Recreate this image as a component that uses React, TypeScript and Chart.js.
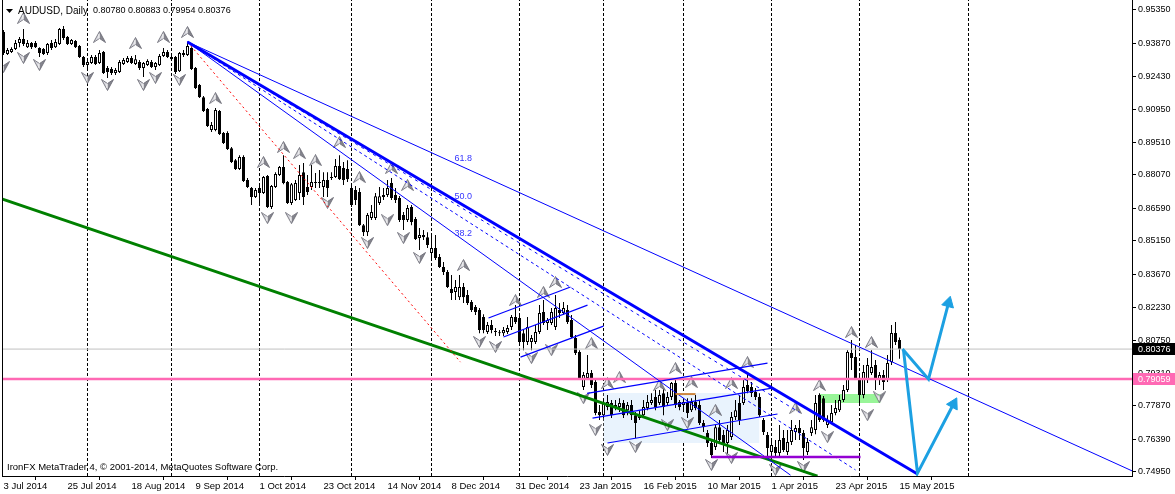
import React, { useEffect, useRef } from 'react';
import { Chart, registerables } from 'chart.js';

Chart.register(...registerables);

const FONT_FAMILY = '"Liberation Sans", Arial, sans-serif';

// ---------- axis data ----------
const dateTickBars = [0, 16, 32, 48, 64, 80, 96, 112, 128, 144, 160, 176, 192, 208, 224];
const dateTickLabels = ['3 Jul 2014', '25 Jul 2014', '18 Aug 2014', '9 Sep 2014', '1 Oct 2014', '23 Oct 2014', '14 Nov 2014', '8 Dec 2014', '31 Dec 2014', '23 Jan 2015', '16 Feb 2015', '10 Mar 2015', '1 Apr 2015', '23 Apr 2015', '15 May 2015'];
const monthStartBars = [21, 42, 64, 87, 107, 129, 150, 170, 192, 214, 241.25];
const priceTicks = [0.9535, 0.9387, 0.9243, 0.9095, 0.8951, 0.8807, 0.8659, 0.8515, 0.8367, 0.8223, 0.8075, 0.7931, 0.7787, 0.7639, 0.7495];

// ---------- candles (AUDUSD daily) ----------
const opens = [
  0.9438, 0.9341, 0.9349, 0.9363, 0.9389, 0.9407, 0.9371, 0.9389, 0.9389, 0.9367,
  0.9363, 0.9345, 0.9389, 0.9371, 0.9385, 0.9451, 0.9416, 0.9385, 0.9398, 0.9376,
  0.9327, 0.9292, 0.9301, 0.9327, 0.9301, 0.9349, 0.9279, 0.9274, 0.9257, 0.9261,
  0.9296, 0.9305, 0.9323, 0.9296, 0.9305, 0.9279, 0.9292, 0.9305, 0.9283, 0.9292,
  0.9332, 0.9349, 0.9327, 0.9327, 0.9265, 0.9336, 0.9336, 0.9367, 0.9279, 0.9204,
  0.9150, 0.9098, 0.9005, 0.9005, 0.9089, 0.8992, 0.8992, 0.8925, 0.8872, 0.8833,
  0.8886, 0.8784, 0.8749, 0.8709, 0.8749, 0.8727, 0.8802, 0.8665, 0.8753, 0.8806,
  0.8842, 0.8775, 0.8683, 0.8696, 0.8727, 0.8819, 0.8753, 0.8753, 0.8775, 0.8771,
  0.8753, 0.8784, 0.8793, 0.8797, 0.8846, 0.8837, 0.8833, 0.8749, 0.8740, 0.8731,
  0.8585, 0.8554, 0.8616, 0.8616, 0.8683, 0.8718, 0.8718, 0.8771, 0.8718, 0.8705,
  0.8630, 0.8608, 0.8665, 0.8612, 0.8528, 0.8541, 0.8532, 0.8462, 0.8484, 0.8444,
  0.8400, 0.8378, 0.8303, 0.8290, 0.8267, 0.8312, 0.8276, 0.8245, 0.8223, 0.8210,
  0.8179, 0.8113, 0.8144, 0.8117, 0.8108, 0.8108, 0.8113, 0.8135, 0.8179, 0.8175,
  0.8108, 0.8069, 0.8069, 0.8069, 0.8113, 0.8201, 0.8153, 0.8153, 0.8135, 0.8210,
  0.8197, 0.8210, 0.8166, 0.8087, 0.8025, 0.7870, 0.7910, 0.7932, 0.7892, 0.7760,
  0.7746, 0.7782, 0.7799, 0.7791, 0.7782, 0.7799, 0.7768, 0.7791, 0.7746, 0.7733,
  0.7746, 0.7777, 0.7799, 0.7826, 0.7799, 0.7843, 0.7799, 0.7826, 0.7888, 0.7804,
  0.7791, 0.7804, 0.7768, 0.7804, 0.7791, 0.7711, 0.7667, 0.7623, 0.7605, 0.7693,
  0.7658, 0.7623, 0.7649, 0.7738, 0.7800, 0.7799, 0.7879, 0.7870, 0.7848, 0.7826,
  0.7724, 0.7658, 0.7583, 0.7605, 0.7579, 0.7645, 0.7583, 0.7627, 0.7671, 0.7689,
  0.7667, 0.7583, 0.7667, 0.7680, 0.7835, 0.7821, 0.7702, 0.7715, 0.7755, 0.7768,
  0.7813, 0.7857, 0.8020, 0.8003, 0.7901, 0.7835, 0.7901, 0.7932, 0.7967, 0.7901,
  0.7923, 0.7901, 0.7980, 0.8109, 0.80780,
];
const highs = [
  0.9447, 0.9367, 0.9371, 0.9402, 0.9416, 0.9451, 0.9402, 0.9394, 0.9398, 0.9371,
  0.9367, 0.9389, 0.9402, 0.9407, 0.9455, 0.9464, 0.9420, 0.9407, 0.9402, 0.9380,
  0.9332, 0.9314, 0.9336, 0.9336, 0.9358, 0.9354, 0.9288, 0.9283, 0.9279, 0.9314,
  0.9323, 0.9332, 0.9332, 0.9336, 0.9314, 0.9305, 0.9318, 0.9314, 0.9305, 0.9341,
  0.9367, 0.9358, 0.9336, 0.9332, 0.9349, 0.9358, 0.9394, 0.9371, 0.9283, 0.9208,
  0.9155, 0.9102, 0.9040, 0.9102, 0.9093, 0.8996, 0.9000, 0.8930, 0.8877, 0.8894,
  0.8894, 0.8793, 0.8753, 0.8749, 0.8758, 0.8802, 0.8806, 0.8762, 0.8819, 0.8846,
  0.8894, 0.8780, 0.8771, 0.8784, 0.8850, 0.8859, 0.8806, 0.8850, 0.8815, 0.8828,
  0.8819, 0.8819, 0.8819, 0.8877, 0.8894, 0.8864, 0.8872, 0.8762, 0.8758, 0.8749,
  0.8590, 0.8638, 0.8674, 0.8727, 0.8753, 0.8749, 0.8784, 0.8793, 0.8749, 0.8714,
  0.8643, 0.8674, 0.8674, 0.8621, 0.8572, 0.8563, 0.8554, 0.8537, 0.8541, 0.8457,
  0.8422, 0.8387, 0.8365, 0.8343, 0.8365, 0.8329, 0.8298, 0.8254, 0.8232, 0.8219,
  0.8192, 0.8157, 0.8166, 0.8131, 0.8122, 0.8135, 0.8144, 0.8188, 0.8232, 0.8188,
  0.8122, 0.8179, 0.8100, 0.8144, 0.8232, 0.8254, 0.8175, 0.8219, 0.8276, 0.8241,
  0.8245, 0.8232, 0.8188, 0.8100, 0.8033, 0.7936, 0.8011, 0.7945, 0.7901, 0.7791,
  0.7821, 0.7835, 0.7813, 0.7813, 0.7821, 0.7813, 0.7804, 0.7813, 0.7760, 0.7768,
  0.7813, 0.7835, 0.7843, 0.7857, 0.7857, 0.7866, 0.7848, 0.7892, 0.7901, 0.7813,
  0.7821, 0.7821, 0.7821, 0.7835, 0.7813, 0.7724, 0.7680, 0.7636, 0.7702, 0.7724,
  0.7680, 0.7702, 0.7760, 0.7813, 0.7835, 0.7901, 0.7936, 0.7892, 0.7866, 0.7843,
  0.7733, 0.7671, 0.7636, 0.7636, 0.7702, 0.7680, 0.7680, 0.7724, 0.7702, 0.7724,
  0.7680, 0.7645, 0.7724, 0.7835, 0.7843, 0.7830, 0.7746, 0.7791, 0.7813, 0.7835,
  0.7879, 0.8033, 0.8078, 0.8056, 0.7923, 0.7967, 0.7998, 0.8033, 0.7989, 0.7936,
  0.7945, 0.8011, 0.8144, 0.8157, 0.80883,
];
const lows = [
  0.9336, 0.9336, 0.9345, 0.9358, 0.9371, 0.9376, 0.9367, 0.9363, 0.9367, 0.9327,
  0.9336, 0.9336, 0.9358, 0.9367, 0.9380, 0.9402, 0.9380, 0.9380, 0.9367, 0.9323,
  0.9283, 0.9270, 0.9296, 0.9292, 0.9296, 0.9252, 0.9235, 0.9248, 0.9248, 0.9257,
  0.9292, 0.9301, 0.9296, 0.9292, 0.9270, 0.9239, 0.9288, 0.9279, 0.9270, 0.9288,
  0.9327, 0.9323, 0.9314, 0.9252, 0.9261, 0.9327, 0.9332, 0.9270, 0.9186, 0.9146,
  0.9084, 0.9018, 0.8996, 0.9000, 0.8983, 0.8943, 0.8917, 0.8859, 0.8828, 0.8828,
  0.8775, 0.8749, 0.8674, 0.8705, 0.8674, 0.8722, 0.8661, 0.8656, 0.8749, 0.8802,
  0.8766, 0.8678, 0.8674, 0.8691, 0.8696, 0.8674, 0.8718, 0.8740, 0.8749, 0.8749,
  0.8709, 0.8709, 0.8784, 0.8793, 0.8784, 0.8762, 0.8775, 0.8665, 0.8674, 0.8581,
  0.8537, 0.8537, 0.8608, 0.8608, 0.8674, 0.8696, 0.8709, 0.8696, 0.8683, 0.8599,
  0.8563, 0.8599, 0.8585, 0.8519, 0.8475, 0.8519, 0.8484, 0.8431, 0.8431, 0.8396,
  0.8365, 0.8307, 0.8254, 0.8254, 0.8254, 0.8241, 0.8232, 0.8201, 0.8188, 0.8108,
  0.8108, 0.8104, 0.8108, 0.8095, 0.8095, 0.8095, 0.8104, 0.8122, 0.8148, 0.8065,
  0.8033, 0.8056, 0.8033, 0.8060, 0.8104, 0.8144, 0.8122, 0.8144, 0.8122, 0.8175,
  0.8188, 0.8148, 0.8087, 0.8011, 0.7901, 0.7857, 0.7901, 0.7866, 0.7746, 0.7724,
  0.7733, 0.7768, 0.7733, 0.7768, 0.7760, 0.7733, 0.7746, 0.7724, 0.7645, 0.7724,
  0.7733, 0.7768, 0.7791, 0.7768, 0.7791, 0.7746, 0.7791, 0.7813, 0.7777, 0.7768,
  0.7760, 0.7733, 0.7760, 0.7768, 0.7702, 0.7671, 0.7605, 0.7557, 0.7592, 0.7627,
  0.7583, 0.7570, 0.7636, 0.7724, 0.7702, 0.7791, 0.7843, 0.7826, 0.7813, 0.7738,
  0.7658, 0.7557, 0.7557, 0.7566, 0.7566, 0.7583, 0.7570, 0.7614, 0.7636, 0.7636,
  0.7548, 0.7570, 0.7654, 0.7662, 0.7716, 0.7716, 0.7689, 0.7707, 0.7746, 0.7760,
  0.7804, 0.7848, 0.7945, 0.7901, 0.7791, 0.7821, 0.7888, 0.7923, 0.7857, 0.7879,
  0.7857, 0.7892, 0.7967, 0.8056, 0.79954,
];
const closes = [
  0.9345, 0.9358, 0.9363, 0.9389, 0.9407, 0.9385, 0.9389, 0.9371, 0.9371, 0.9345,
  0.9341, 0.9385, 0.9367, 0.9394, 0.9451, 0.9411, 0.9385, 0.9402, 0.9371, 0.9327,
  0.9292, 0.9305, 0.9327, 0.9296, 0.9345, 0.9257, 0.9261, 0.9257, 0.9270, 0.9305,
  0.9314, 0.9323, 0.9301, 0.9318, 0.9279, 0.9301, 0.9310, 0.9283, 0.9301, 0.9332,
  0.9349, 0.9327, 0.9318, 0.9261, 0.9345, 0.9345, 0.9376, 0.9274, 0.9190, 0.9150,
  0.9089, 0.9023, 0.9027, 0.9093, 0.8987, 0.8948, 0.8921, 0.8864, 0.8833, 0.8886,
  0.8780, 0.8753, 0.8709, 0.8740, 0.8727, 0.8797, 0.8665, 0.8758, 0.8811, 0.8842,
  0.8771, 0.8683, 0.8766, 0.8771, 0.8806, 0.8709, 0.8731, 0.8775, 0.8771, 0.8775,
  0.8784, 0.8749, 0.8797, 0.8846, 0.8788, 0.8784, 0.8788, 0.8674, 0.8696, 0.8585,
  0.8554, 0.8630, 0.8643, 0.8713, 0.8713, 0.8709, 0.8749, 0.8705, 0.8696, 0.8608,
  0.8608, 0.8661, 0.8599, 0.8524, 0.8541, 0.8532, 0.8497, 0.8484, 0.8440, 0.8400,
  0.8378, 0.8312, 0.8285, 0.8312, 0.8312, 0.8267, 0.8241, 0.8210, 0.8201, 0.8122,
  0.8122, 0.8144, 0.8122, 0.8113, 0.8110, 0.8122, 0.8131, 0.8179, 0.8157, 0.8069,
  0.8069, 0.8135, 0.8087, 0.8113, 0.8197, 0.8153, 0.8166, 0.8201, 0.8219, 0.8197,
  0.8219, 0.8157, 0.8091, 0.8020, 0.7910, 0.7923, 0.7932, 0.7879, 0.7755, 0.7746,
  0.7799, 0.7804, 0.7746, 0.7782, 0.7799, 0.7746, 0.7791, 0.7746, 0.7711, 0.7746,
  0.7782, 0.7804, 0.7813, 0.7782, 0.7835, 0.7782, 0.7826, 0.7888, 0.7791, 0.7782,
  0.7804, 0.7755, 0.7804, 0.7777, 0.7711, 0.7693, 0.7623, 0.7570, 0.7693, 0.7636,
  0.7623, 0.7680, 0.7738, 0.7768, 0.7724, 0.7870, 0.7852, 0.7844, 0.7826, 0.7746,
  0.7671, 0.7601, 0.7614, 0.7579, 0.7636, 0.7592, 0.7627, 0.7680, 0.7689, 0.7667,
  0.7601, 0.7627, 0.7693, 0.7799, 0.7724, 0.7724, 0.7724, 0.7755, 0.7777, 0.7813,
  0.7857, 0.8025, 0.7998, 0.7910, 0.7835, 0.7936, 0.7967, 0.7958, 0.7901, 0.7923,
  0.7892, 0.7976, 0.8109, 0.8069, 0.80376,
];

// ---------- fractal markers ----------
const upFractalBars = [5, 24, 33, 40, 46, 53, 65, 70, 74, 78, 84, 89, 97, 101, 115, 128, 135, 138, 147, 151, 154, 164, 168, 172, 178, 182, 186, 198, 204, 212, 217];
const upFractalPrices = [0.9500, 0.9416, 0.9389, 0.9416, 0.9438, 0.9146, 0.8864, 0.8930, 0.8903, 0.8872, 0.8952, 0.8797, 0.8837, 0.8762, 0.8409, 0.8254, 0.8290, 0.8334, 0.8064, 0.7888, 0.7914, 0.7879, 0.7954, 0.7892, 0.7769, 0.7888, 0.7980, 0.7777, 0.7879, 0.8113, 0.8069];
const downFractalBars = [0, 5, 9, 21, 26, 35, 38, 44, 66, 72, 81, 91, 96, 100, 104, 119, 123, 132, 137, 145, 148, 151, 158, 166, 171, 177, 182, 193, 200, 206, 216, 219];
const downFractalPrices = [0.9283, 0.9323, 0.9292, 0.9235, 0.9204, 0.9204, 0.9235, 0.9226, 0.8616, 0.8616, 0.8683, 0.8506, 0.8607, 0.8528, 0.8440, 0.8069, 0.8047, 0.7998, 0.8033, 0.7821, 0.7680, 0.7592, 0.7605, 0.7702, 0.7711, 0.7526, 0.7557, 0.7504, 0.7517, 0.7649, 0.7746, 0.7825];

// ---------- drawn objects ----------
const greenTrendBars = [-0.25, 203.5];
const greenTrendPrices = [0.8700, 0.7477];
const fan50Bars = [46, 228.5];
const fan50Prices = [0.9394, 0.7486];
const fan618Bars = [46, 282.25];
const fan618Prices = [0.9394, 0.7499];
const fan382Bars = [46, 196.75];
const fan382Prices = [0.9394, 0.7481];
const fanTrendBars = [46, 213];
const fanTrendPrices = [0.9394, 0.7504];
const fanTrend2Bars = [46, 199];
const fanTrend2Prices = [0.9394, 0.7758];
const redRayBars = [46, 114.25];
const redRayPrices = [0.9394, 0.7980];
const chanATopBars = [121.25, 141.75];
const chanATopPrices = [0.8175, 0.8312];
const chanAMidBars = [125, 146];
const chanAMidPrices = [0.8091, 0.8232];
const chanABotBars = [129.25, 150];
const chanABotPrices = [0.8002, 0.8139];
const chanBTopBars = [145.9, 191];
const chanBTopPrices = [0.7842, 0.7976];
const chanBMidBars = [147.25, 192.5];
const chanBMidPrices = [0.7733, 0.7866];
const chanBBotBars = [151, 193.5];
const chanBBotPrices = [0.7623, 0.7751];
const blueBoxBars = [150, 189];
const blueBoxPrices = [0.7844, 0.7623];
const greenBoxBars = [204, 219.25];
const greenBoxPrices = [0.7839, 0.7799];
const orangeLevelBars = [168, 173];
const orangeLevelPrice = 0.7839;
const purpleLevelBars = [177, 214.25];
const purpleLevelPrice = 0.7561;
const pinkLevelPrice = 0.79059;
const arrowUpperBars = [224.75, 231.25, 236.25];
const arrowUpperPrices = [0.8038, 0.7905, 0.8241];
const arrowLowerBars = [225, 228.5, 237.5];
const arrowLowerPrices = [0.8033, 0.7490, 0.7795];
const fibLabels = ['61.8', '50.0', '38.2'];
const fibLabelBar = 112.75;
const fibLabelPrices = [0.8881, 0.8713, 0.8550];

const symbolTitle = 'AUDUSD, Daily';
const copyrightText = 'IronFX MetaTrader 4, \u00A9 2001-2014, MetaQuotes Software Corp.';

const X_MIN = -0.375;
const X_MAX = 282.125;
const Y_MIN = 0.74772;
const Y_MAX = 0.95791;

const pts = (bars: number[], prices: number[]) => bars.map((b, k) => ({ x: b, y: prices[k] }));
const flat = (bars: number[], price: number) => bars.map((b) => ({ x: b, y: price }));

function makeFractalIcon(up: boolean): HTMLCanvasElement {
  const w = 13;
  const h = 12;
  const c = document.createElement('canvas');
  c.width = w;
  c.height = h;
  const g = c.getContext('2d')!;
  const tipY = up ? 0.5 : h - 0.5;
  const baseY = up ? h - 0.5 : 0.5;
  const notchY = up ? h - 4.5 : 4.5;
  const mid = w / 2;
  g.beginPath();
  g.moveTo(mid, tipY); g.lineTo(mid, notchY); g.lineTo(0.5, baseY); g.closePath();
  g.fillStyle = '#dadae0';
  g.fill();
  g.beginPath();
  g.moveTo(mid, tipY); g.lineTo(w - 0.5, baseY); g.lineTo(mid, notchY); g.closePath();
  g.fillStyle = '#85858e';
  g.fill();
  g.beginPath();
  g.moveTo(mid, tipY); g.lineTo(w - 0.5, baseY); g.lineTo(mid, notchY); g.lineTo(0.5, baseY); g.closePath();
  g.strokeStyle = 'rgba(105,105,115,0.95)';
  g.lineWidth = 0.9;
  g.stroke();
  g.beginPath();
  g.moveTo(mid - 0.5, tipY + (up ? 2.5 : -2.5)); g.lineTo(mid - 0.5, notchY);
  g.strokeStyle = 'rgba(255,255,255,0.85)';
  g.lineWidth = 1;
  g.stroke();
  return c;
}

function lineDs(bars: number[], prices: number[], color: string, width: number, dash: number[] = [], order = 50) {
  return {
    type: 'line' as const,
    data: pts(bars, prices),
    borderColor: color,
    borderWidth: width,
    borderDash: dash,
    pointRadius: 0,
    fill: false,
    tension: 0,
    order,
    xAxisID: 'x',
    yAxisID: 'y',
  };
}

const overlayPlugin = {
  id: 'mtOverlay',
  afterDraw(chart: any) {
    const ctx = chart.ctx as CanvasRenderingContext2D;
    const xs = chart.scales.x;
    const ys = chart.scales.y;
    const ca = chart.chartArea;
    ctx.save();
    ctx.strokeStyle = '#000';
    ctx.lineWidth = 1;
    ctx.beginPath();
    ctx.moveTo(ca.left + 0.5, 0);
    ctx.lineTo(ca.left + 0.5, ca.bottom);
    ctx.stroke();

    ctx.textBaseline = 'middle';
    ctx.textAlign = 'left';
    ctx.fillStyle = '#000';
    ctx.beginPath();
    ctx.moveTo(6, 9);
    ctx.lineTo(13, 9);
    ctx.lineTo(9.5, 13);
    ctx.closePath();
    ctx.fill();
    ctx.font = `10px ${FONT_FAMILY}`;
    ctx.fillText(symbolTitle, 18, 11);
    ctx.font = `9px ${FONT_FAMILY}`;
    const n = closes.length - 1;
    const ohlc = [opens[n], highs[n], lows[n], closes[n]].map((v) => v.toFixed(5)).join(' ');
    ctx.fillText(ohlc, 93, 11);
    ctx.font = `9.5px ${FONT_FAMILY}`;
    ctx.fillText(copyrightText, 7, 467);

    ctx.font = `9px ${FONT_FAMILY}`;
    ctx.fillStyle = '#3434ff';
    const fx = xs.getPixelForValue(fibLabelBar);
    fibLabels.forEach((t, k) => ctx.fillText(t, fx, ys.getPixelForValue(fibLabelPrices[k])));

    const boxes: [number, string][] = [[closes[n], '#000000'], [pinkLevelPrice, '#ff69b4']];
    boxes.forEach(([v, col]) => {
      const py = Math.round(ys.getPixelForValue(v));
      ctx.fillStyle = col;
      ctx.fillRect(ca.right + 1, py - 6, chart.width - ca.right - 1, 12);
      ctx.fillStyle = '#ffffff';
      ctx.fillText(v.toFixed(5), ca.right + 6, py + 0.5);
    });
    ctx.restore();
  },
};

export default function App() {
  const ref = useRef<HTMLCanvasElement | null>(null);
  useEffect(() => {
    if (!ref.current) return;
    const upIcon = makeFractalIcon(true);
    const downIcon = makeFractalIcon(false);
    Chart.defaults.font.family = FONT_FAMILY;
    Chart.defaults.font.size = 9;

    const wickData = opens.map((_, i) => ({ x: i, y: [lows[i], highs[i]] }));
    const bodyData = opens.map((o, i) => ({ x: i, y: [o, closes[i]] }));
    const bodyColors = opens.map((o, i) => (closes[i] >= o ? '#ffffff' : '#000000'));

    const monthLines = monthStartBars.map((b) => ({
      type: 'line', data: [{ x: b, y: Y_MIN }, { x: b, y: Y_MAX }], borderColor: '#000', borderWidth: 1,
      borderDash: [3, 2], pointRadius: 0, fill: false, order: 300, xAxisID: 'x', yAxisID: 'y',
    }));

    const datasets: any[] = [
      ...monthLines,
      {
        type: 'line', data: flat(blueBoxBars, blueBoxPrices[0]), borderWidth: 0, pointRadius: 0,
        backgroundColor: '#e9f3fd', fill: { value: blueBoxPrices[1] }, order: 200, xAxisID: 'x', yAxisID: 'y',
      },
      {
        type: 'line', data: flat(greenBoxBars, greenBoxPrices[0]), borderWidth: 0, pointRadius: 0,
        backgroundColor: '#98f598', fill: { value: greenBoxPrices[1] }, order: 199, xAxisID: 'x', yAxisID: 'y',
      },
      {
        type: 'bar', data: wickData, backgroundColor: '#000', borderWidth: 0, barThickness: 1, grouped: false,
        minBarLength: 1, inflateAmount: 0, borderSkipped: false, order: 150, xAxisID: 'x', yAxisID: 'y',
      },
      {
        type: 'bar', data: bodyData, backgroundColor: bodyColors, borderColor: '#000', borderWidth: 1,
        barThickness: 3, grouped: false, minBarLength: 1, inflateAmount: 0, borderSkipped: false, order: 140,
        xAxisID: 'x', yAxisID: 'y',
      },
      {
        type: 'line', data: pts(upFractalBars, upFractalPrices), showLine: false, pointStyle: upIcon,
        pointRadius: 6, order: 130, xAxisID: 'x', yAxisID: 'y',
      },
      {
        type: 'line', data: pts(downFractalBars, downFractalPrices), showLine: false, pointStyle: downIcon,
        pointRadius: 6, order: 130, xAxisID: 'x', yAxisID: 'y',
      },
      lineDs([X_MIN, X_MAX], [0.80376, 0.80376], '#c0c0c0', 1, [], 120),
      lineDs([X_MIN, X_MAX], [pinkLevelPrice, pinkLevelPrice], '#ff69b4', 2.5, [], 60),
      lineDs(greenTrendBars, greenTrendPrices, '#008000', 3, [], 55),
      lineDs(redRayBars, redRayPrices, '#ff0000', 1, [2, 3], 54),
      lineDs(fan618Bars, fan618Prices, '#0000ff', 1, [], 53),
      lineDs(fan382Bars, fan382Prices, '#0000ff', 1, [], 53),
      lineDs(fanTrendBars, fanTrendPrices, '#0000ff', 1, [3, 3], 53),
      lineDs(fanTrend2Bars, fanTrend2Prices, '#0000ff', 1, [3, 4], 53),
      lineDs(fan50Bars, fan50Prices, '#0000ff', 3, [], 52),
      lineDs(chanATopBars, chanATopPrices, '#0000ff', 1.2, [], 51),
      lineDs(chanAMidBars, chanAMidPrices, '#0000ff', 1.2, [], 51),
      lineDs(chanABotBars, chanABotPrices, '#0000ff', 1.2, [], 51),
      lineDs(chanBTopBars, chanBTopPrices, '#0000ff', 1.2, [], 51),
      lineDs(chanBMidBars, chanBMidPrices, '#0000ff', 1.2, [], 51),
      lineDs(chanBBotBars, chanBBotPrices, '#0000ff', 1.2, [], 51),
      lineDs(orangeLevelBars, [orangeLevelPrice, orangeLevelPrice], '#cd853f', 2, [], 50),
      lineDs(purpleLevelBars, [purpleLevelPrice, purpleLevelPrice], '#9400d3', 2.5, [], 50),
      lineDs(arrowUpperBars, arrowUpperPrices, '#1ca0e2', 3, [], 20),
      lineDs(arrowLowerBars, arrowLowerPrices, '#1ca0e2', 3, [], 20),
      {
        type: 'line', showLine: false, order: 19, xAxisID: 'x', yAxisID: 'y',
        data: [
          { x: arrowUpperBars[2], y: arrowUpperPrices[2] },
          { x: arrowLowerBars[2], y: arrowLowerPrices[2] },
        ],
        pointStyle: 'triangle', pointRadius: 7, pointRotation: [15, 28],
        backgroundColor: '#1ca0e2', borderColor: '#1ca0e2', borderWidth: 1,
      },
    ];

    const chart = new Chart(ref.current, {
      type: 'bar',
      data: { datasets },
      options: {
        animation: false,
        responsive: false,
        maintainAspectRatio: false,
        events: [],
        layout: { autoPadding: false, padding: { left: 2, top: 0, right: 0, bottom: 0 } },
        plugins: { legend: { display: false }, tooltip: { enabled: false }, title: { display: false } },
        scales: {
          x: {
            type: 'linear', position: 'bottom', min: X_MIN, max: X_MAX, offset: false,
            afterBuildTicks: (s: any) => { s.ticks = dateTickBars.map((v) => ({ value: v })); },
            afterFit: (s: any) => { s.height = 18; s.paddingLeft = 0; s.paddingRight = 0; },
            ticks: {
              autoSkip: false, maxRotation: 0, minRotation: 0, align: 'start', padding: 1, color: '#000',
              font: { size: 9.5, family: FONT_FAMILY },
              callback: (v: any) => { const k = dateTickBars.indexOf(Number(v)); return k >= 0 ? dateTickLabels[k] : ''; },
            },
            grid: { display: true, drawOnChartArea: false, drawTicks: true, tickLength: 4, color: '#000' },
            border: { display: true, color: '#000' },
          },
          y: {
            type: 'linear', position: 'right', min: Y_MIN, max: Y_MAX,
            afterBuildTicks: (s: any) => { s.ticks = priceTicks.map((v) => ({ value: v })); },
            afterFit: (s: any) => { s.width = 43; s.paddingTop = 0; s.paddingBottom = 0; },
            ticks: { padding: 2, color: '#000', font: { size: 9, family: FONT_FAMILY }, callback: (v: any) => Number(v).toFixed(5) },
            grid: { display: true, drawOnChartArea: false, drawTicks: true, tickLength: 4, color: '#000' },
            border: { display: true, color: '#000' },
          },
        },
      } as any,
      plugins: [overlayPlugin],
    });
    return () => chart.destroy();
  }, []);

  return (
    <div style={{ position: 'fixed', left: 0, top: 0, width: 1175, height: 494, background: '#fff' }}>
      <canvas ref={ref} width={1175} height={494} style={{ display: 'block', width: 1175, height: 494 }} />
    </div>
  );
}
